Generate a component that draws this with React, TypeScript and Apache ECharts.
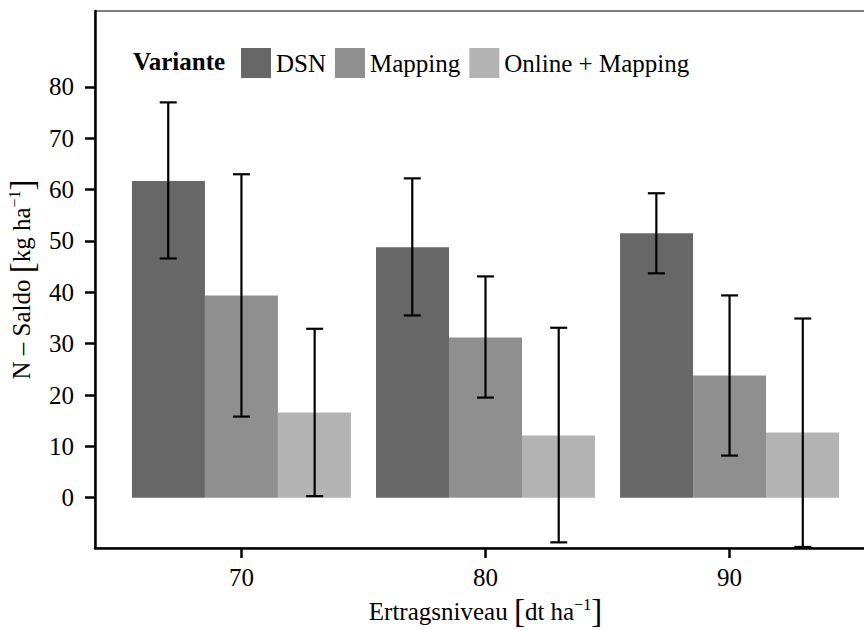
import React, { useEffect, useRef } from "react";
import * as echarts from "echarts";

// Yield levels (dt/ha) on the x axis
const categories = ["70", "80", "90"];
const seriesNames = ["DSN", "Mapping", "Online + Mapping"];

// N balance means (kg/ha) per variant
const dsnValues = [61.7, 48.8, 51.5];
const mappingValues = [39.4, 31.2, 23.8];
const onlineValues = [16.6, 12.1, 12.7];

// Error bar limits
const dsnLow = [46.6, 35.5, 43.7];
const dsnHigh = [77.0, 62.2, 59.3];
const mappingLow = [15.8, 19.5, 8.2];
const mappingHigh = [63.0, 43.1, 39.4];
const onlineLow = [0.3, -8.7, -9.6];
const onlineHigh = [32.9, 33.1, 34.9];

const yTicks = [0, 10, 20, 30, 40, 50, 60, 70, 80];

const colors = ["#676767", "#8f8f8f", "#b3b3b3"];
const FONT = "'Liberation Serif', 'Times New Roman', serif";
const DODGE = 0.3; // width of one bar in category units

const titleRich = {
  t: { fontFamily: FONT, fontSize: 25, color: "#000" },
  s: { fontFamily: FONT, fontSize: 16, color: "#000", padding: [0, 0, 14, 0] },
  b: { fontFamily: FONT, fontSize: 33, color: "#000" },
};

export default function App() {
  const ref = useRef<HTMLDivElement>(null);

  useEffect(() => {
    if (!ref.current) return;
    const chart = echarts.init(ref.current, undefined, { renderer: "svg" });

    const values = [dsnValues, mappingValues, onlineValues];
    const lows = [dsnLow, mappingLow, onlineLow];
    const highs = [dsnHigh, mappingHigh, onlineHigh];

    const barSeries = seriesNames.map((name, s) => ({
      name,
      type: "bar",
      barWidth: 73,
      barGap: "0%",
      itemStyle: { color: colors[s] },
      data: categories.map((_, i) => [i + 1, values[s][i]]),
    }));

    const errData: number[][] = [];
    seriesNames.forEach((_, s) => {
      categories.forEach((__, i) => {
        errData.push([i + 1 + (s - 1) * DODGE, lows[s][i], highs[s][i]]);
      });
    });

    const errorSeries = {
      type: "custom",
      name: "errors",
      silent: true,
      z: 10,
      data: errData,
      encode: { x: 0, y: [1, 2] },
      renderItem: (_params: any, api: any) => {
        const x = api.value(0);
        const top = api.coord([x, api.value(2)]);
        const bot = api.coord([x, api.value(1)]);
        const half = 8.5;
        const style = { stroke: "#000", lineWidth: 2.2 };
        return {
          type: "group",
          children: [
            { type: "line", shape: { x1: top[0], y1: top[1], x2: bot[0], y2: bot[1] }, style },
            { type: "line", shape: { x1: top[0] - half, y1: top[1], x2: top[0] + half, y2: top[1] }, style },
            { type: "line", shape: { x1: bot[0] - half, y1: bot[1], x2: bot[0] + half, y2: bot[1] }, style },
          ],
        };
      },
    };

    chart.setOption({
      animation: false,
      backgroundColor: "#ffffff",
      textStyle: { fontFamily: FONT },
      title: {
        text: "Variante",
        left: 133,
        top: 49,
        padding: 0,
        textStyle: { fontFamily: FONT, fontWeight: "bold", fontSize: 25, color: "#000" },
      },
      legend: {
        data: seriesNames,
        left: 241,
        top: 48,
        padding: 0,
        itemWidth: 30,
        itemHeight: 30,
        itemGap: 9,
        icon: "rect",
        textStyle: { fontFamily: FONT, fontSize: 25, color: "#000" },
      },
      grid: {
        left: 95,
        top: 11,
        width: 781,
        height: 537,
        show: true,
        borderColor: "#000",
        borderWidth: 1,
        outerBoundsMode: "none",
        containLabel: false,
      },
      xAxis: {
        type: "value",
        min: 0.4,
        max: 3.6,
        splitLine: { show: false },
        axisLine: { onZero: false, lineStyle: { color: "#000", width: 2.5 } },
        axisTick: { customValues: [1, 2, 3], length: 10, lineStyle: { color: "#000", width: 2.5 } },
        axisLabel: {
          customValues: [1, 2, 3],
          formatter: (v: number) => categories[Math.round(v) - 1] ?? "",
          fontFamily: FONT,
          fontSize: 25,
          color: "#000",
          margin: 17,
        },
        name: "{t|Ertragsniveau }{b|[}{t|dt ha}{s|−1}{b|]}",
        nameLocation: "middle",
        nameGap: 37,
        nameTextStyle: { rich: titleRich },
      },
      yAxis: {
        type: "value",
        min: -9.8,
        max: 94.8,
        splitLine: { show: false },
        axisLine: { show: true, onZero: false, lineStyle: { color: "#000", width: 2.5 } },
        axisTick: { show: true, customValues: yTicks, length: 10, lineStyle: { color: "#000", width: 2.5 } },
        axisLabel: {
          customValues: yTicks,
          fontFamily: FONT,
          fontSize: 25,
          color: "#000",
          margin: 21,
        },
        name: "{t|N – Saldo }{b|[}{t|kg ha}{s|−1}{b|]}",
        nameLocation: "middle",
        nameRotate: 90,
        nameGap: 49,
        nameTextStyle: { rich: titleRich },
      },
      series: [...barSeries, errorSeries],
    });

    return () => chart.dispose();
  }, []);

  return (
    <div
      ref={ref}
      style={{ position: "absolute", left: 0, top: 0, width: 864, height: 630, overflow: "hidden" }}
    />
  );
}
